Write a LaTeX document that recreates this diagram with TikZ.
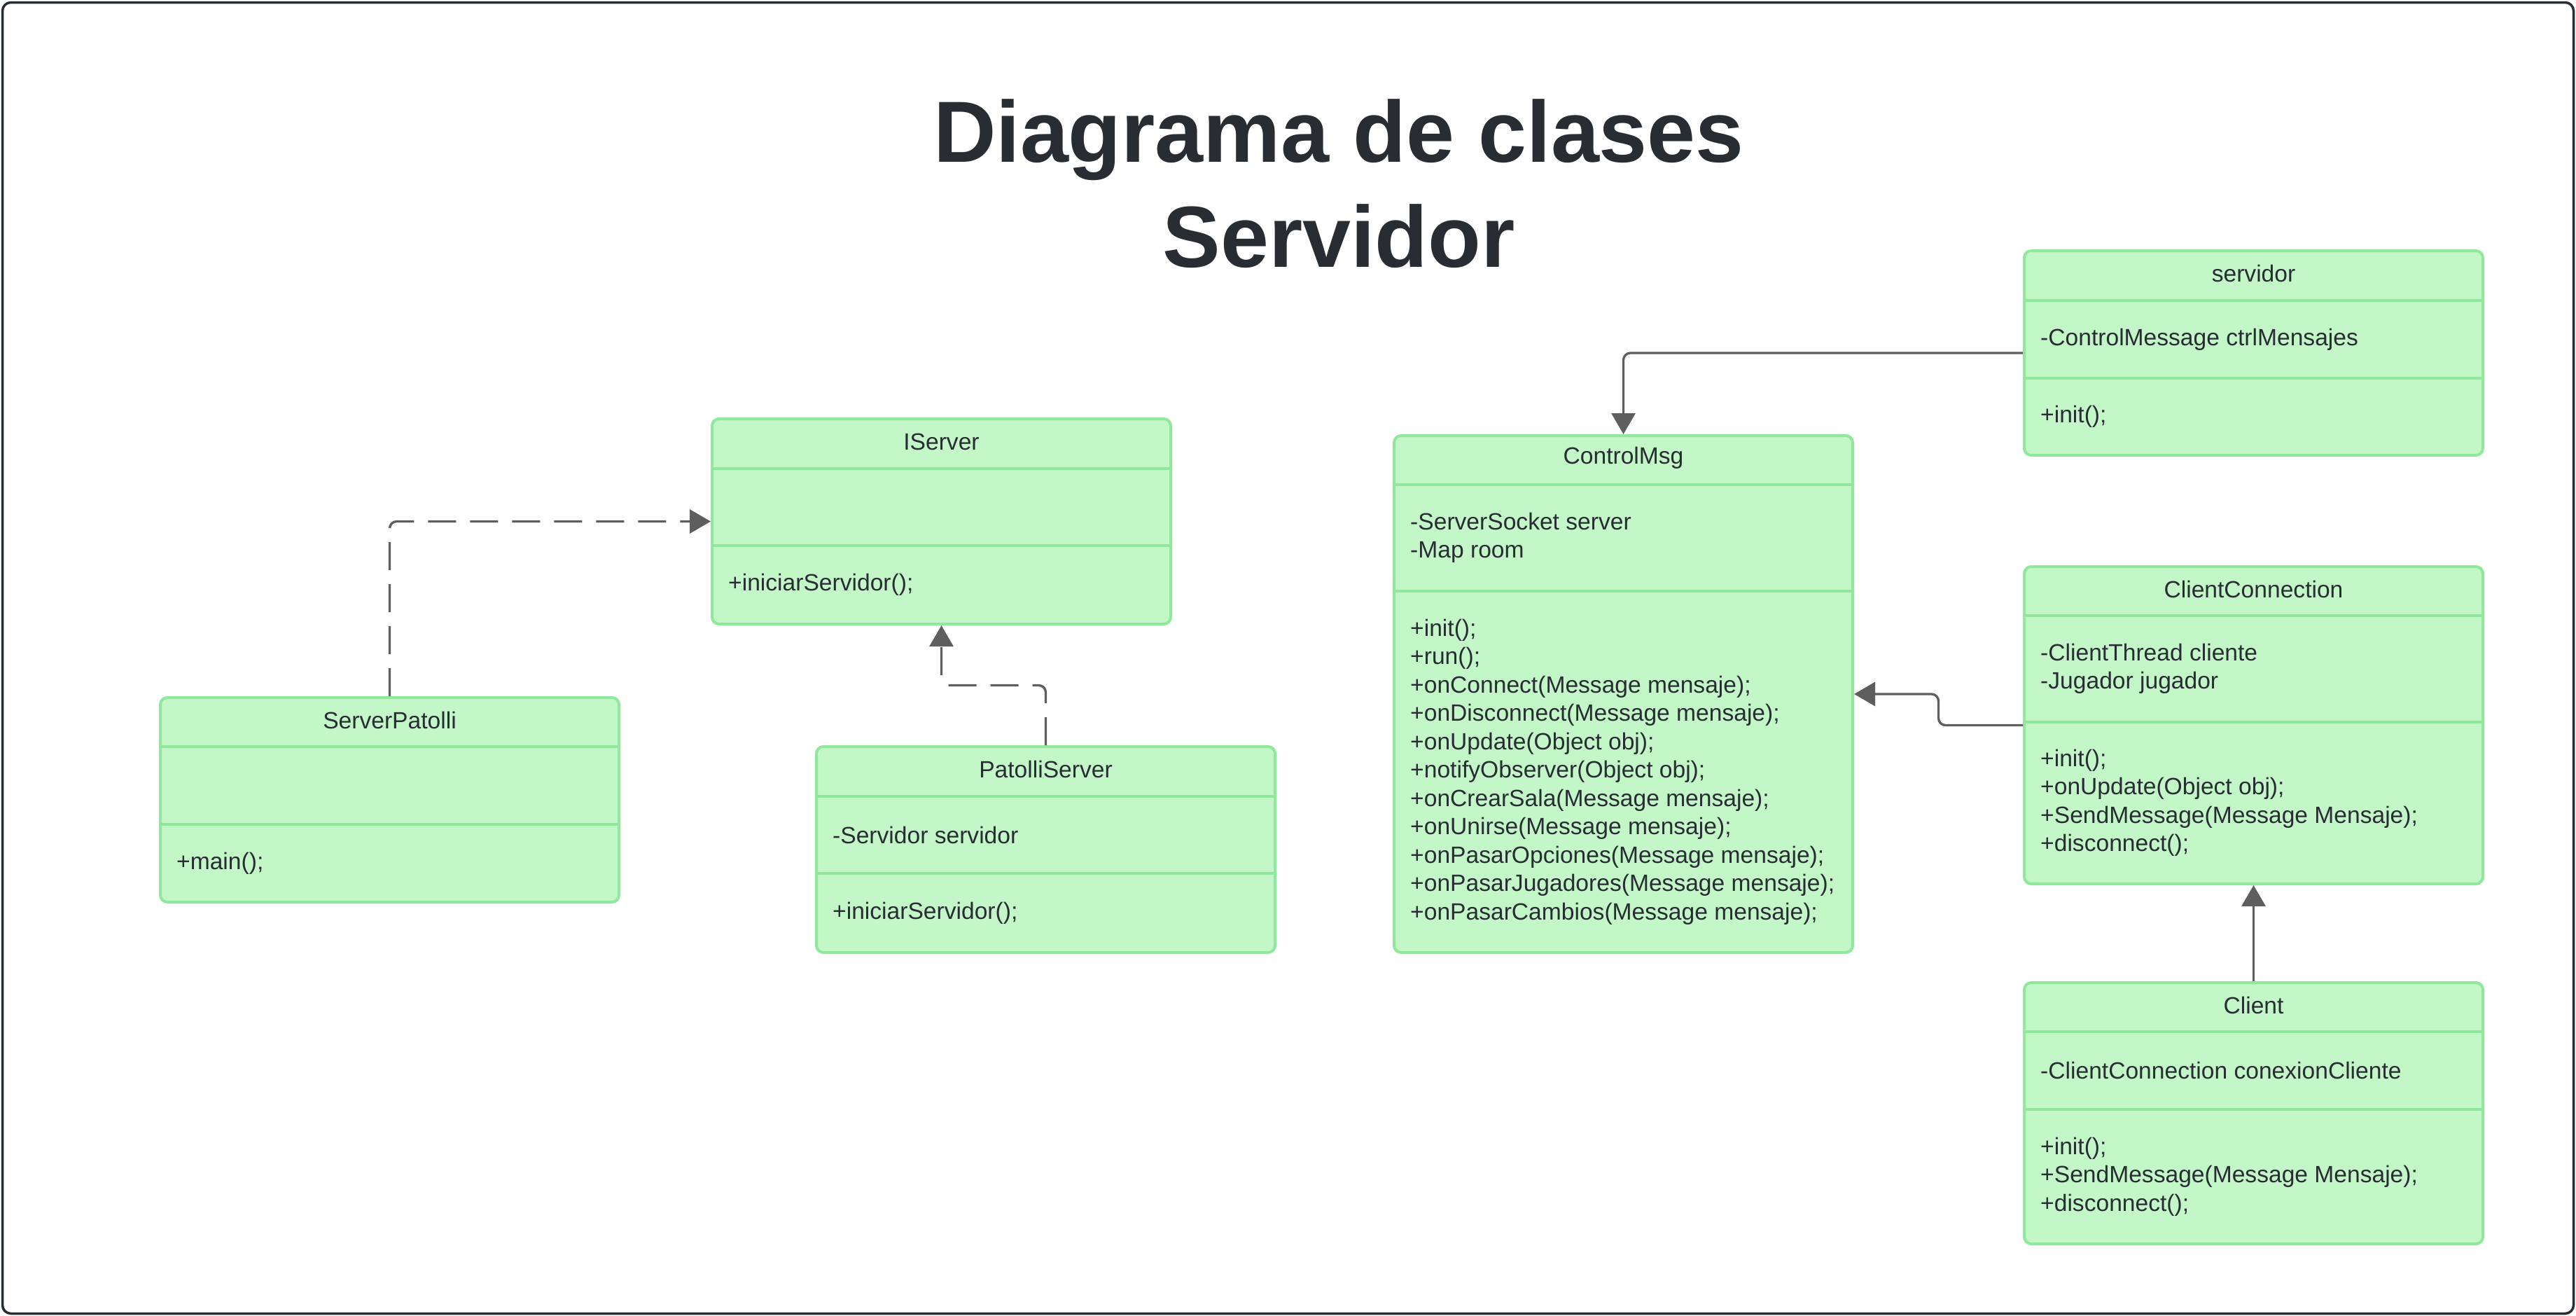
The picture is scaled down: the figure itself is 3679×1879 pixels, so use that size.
\documentclass[tikz,border=0pt]{standalone}
\usepackage{fontspec}
\setmainfont{Liberation Sans}
\usetikzlibrary{arrows.meta,calc}
\definecolor{textdark}{RGB}{40,44,51}
\definecolor{boxfill}{RGB}{195,247,200}
\definecolor{boxline}{RGB}{143,232,155}
\definecolor{conn}{RGB}{94,94,94}

\tikzset{
  classbox/.style={draw=boxline, fill=boxfill, line width=4pt, rounded corners=10pt,
    minimum width=655pt, inner sep=0pt, rectangle},
  divider/.style={draw=boxline, line width=4pt},
  hdrtext/.style={text=textdark, font=\fontsize{33.6}{40.5}\selectfont, inner sep=0pt},
  bodytext/.style={text=textdark, font=\fontsize{33.6}{40.5}\selectfont, inner sep=0pt,
    anchor=west, align=left},
  titletext/.style={text=textdark, font=\fontsize{124}{150}\selectfont\bfseries,
    inner sep=0pt, align=center},
  assoc/.style={draw=conn, line width=3.3pt, rounded corners=10pt,
    -{Triangle[length=30pt,width=34pt]}},
  realiz/.style={assoc, dash pattern=on 40pt off 20pt},
  frame/.style={draw=textdark, line width=3.5pt, rounded corners=12pt}
}

% #1 name, #2 left x, #3 top y, #4 header h, #5 attr h, #6 method h, #7 title, #8 attrs, #9 methods
\newcommand\umlbox[9]{%
  \pgfmathsetmacro\ubcx{#2+327.5}%
  \pgfmathsetmacro\ubtot{#4+#5+#6}%
  \pgfmathsetmacro\ubcy{#3+\ubtot/2}%
  \pgfmathsetmacro\ubya{#3+#4}%
  \pgfmathsetmacro\ubyb{#3+#4+#5}%
  \node[classbox, minimum height=\ubtot pt] (#1) at (\ubcx,\ubcy) {};
  \draw[divider] (#2,\ubya) -- ++(655,0);
  \draw[divider] (#2,\ubyb) -- ++(655,0);
  \node[hdrtext] (#1-title) at (\ubcx,{#3+#4/2-3}) {#7};
  \if\relax\detokenize{#8}\relax\else
    \node[bodytext] (#1-attr) at ({#2+23},{\ubya+#5/2}) {#8};
  \fi
  \if\relax\detokenize{#9}\relax\else
    \node[bodytext] (#1-meth) at ({#2+23},{\ubyb+#6/2}) {#9};
  \fi
}

\begin{document}
\begin{tikzpicture}[x=1pt,y=-1pt]
\useasboundingbox (0,0) rectangle (3679,1879);
\draw[frame] (3.5,3.5) rectangle (3675.5,1875.5);

\node[titletext] (title) at (1912,262) {Diagrama de clases\\Servidor};

\umlbox{iserver}{1017}{598}{71}{110}{112}{IServer}{}{+iniciarServidor();}
\umlbox{serverpatolli}{229}{996}{70}{111}{111}{ServerPatolli}{}{+main();}
\umlbox{patolliserver}{1166}{1066}{71}{110}{113}{PatolliServer}{-Servidor servidor}{+iniciarServidor();}
\umlbox{controlmsg}{1991}{622}{70}{152}{516}{ControlMsg}{-ServerSocket server\\-Map room}{+init();\\+run();\\+onConnect(Message mensaje);\\+onDisconnect(Message mensaje);\\+onUpdate(Object obj);\\+notifyObserver(Object obj);\\+onCrearSala(Message mensaje);\\+onUnirse(Message mensaje);\\+onPasarOpciones(Message mensaje);\\+onPasarJugadores(Message mensaje);\\+onPasarCambios(Message mensaje);}
\umlbox{servidor}{2891}{358}{71}{111}{110}{servidor}{-ControlMessage ctrlMensajes}{+init();}
\umlbox{clientconn}{2891}{809}{70}{152}{231}{ClientConnection}{-ClientThread cliente\\-Jugador jugador}{+init();\\+onUpdate(Object obj);\\+SendMessage(Message Mensaje);\\+disconnect();}
\umlbox{client}{2891}{1403}{70}{111}{192}{Client}{-ClientConnection conexionCliente}{+init();\\+SendMessage(Message Mensaje);\\+disconnect();}

\coordinate (midcc) at ($(controlmsg.east)!0.5!(clientconn.west)$);
\coordinate (midps) at ($(iserver.south)!0.5!(patolliserver.north)$);

\draw[assoc] (servidor.west) -| (controlmsg.north);
\draw[assoc] (clientconn.west) -| (midcc) |- (controlmsg.east);
\draw[assoc] (client.north) -- (clientconn.south);
\draw[realiz] (serverpatolli.north) |- (iserver.west);
\draw[realiz] (patolliserver.north) |- (midps) -| (iserver.south);
\end{tikzpicture}
\end{document}
